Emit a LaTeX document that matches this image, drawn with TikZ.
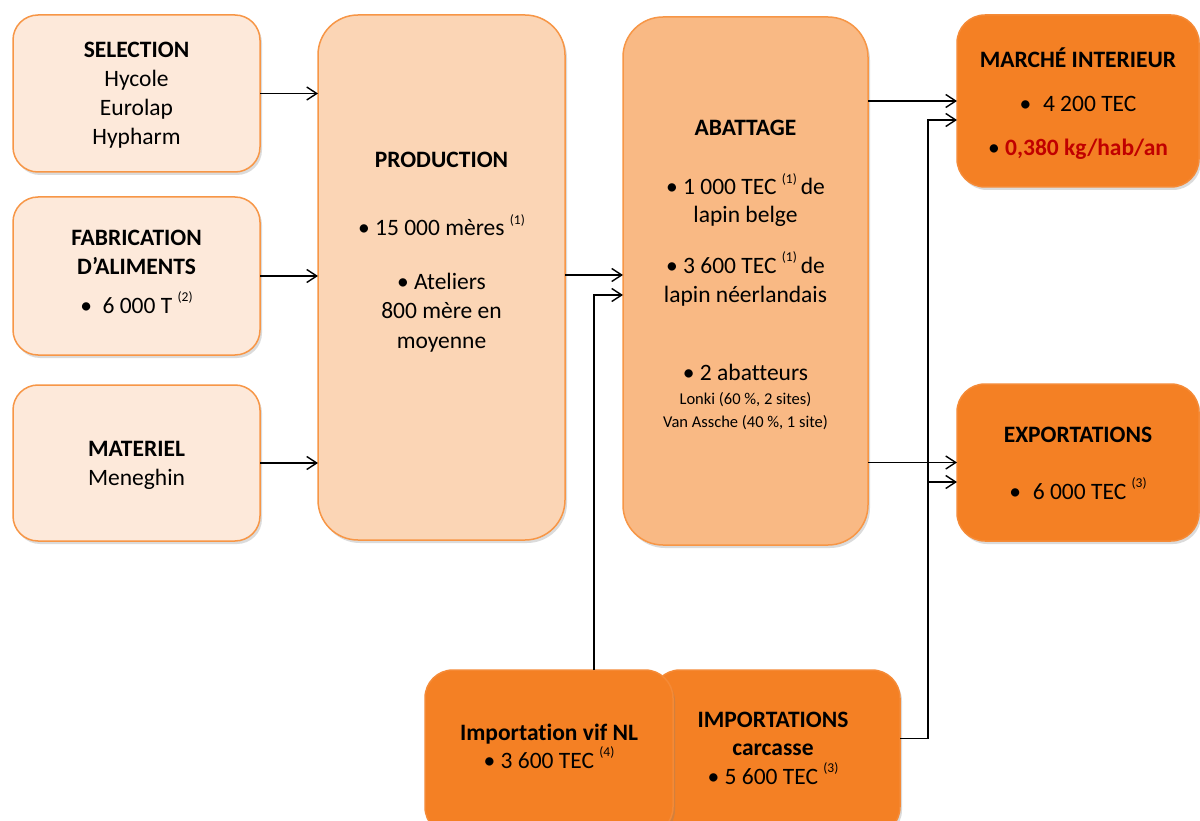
\documentclass[tikz,border=0pt]{standalone}
\usepackage{fontspec}
\setmainfont{Carlito}[RawFeature={-liga;-clig;-dlig;-calt;-rlig}]
\usetikzlibrary{arrows.meta,shadows}
\definecolor{bord}{HTML}{F79646}
\definecolor{lightc}{HTML}{FDE9DA}
\definecolor{prodc}{HTML}{FBD5B5}
\definecolor{abatc}{HTML}{F9B984}
\definecolor{darkc}{HTML}{F48024}
\definecolor{darkb}{HTML}{F58A36}
\definecolor{redt}{HTML}{C00000}
\newcommand\supr[1]{\raisebox{0.5em}{\fontsize{13.5}{13.5}\selectfont(#1)}}
\begin{document}
\begin{tikzpicture}[x=1pt,y=-1pt,
  box/.style={draw=bord, line width=1.5pt, rounded corners=25pt, inner sep=0pt, outer sep=0pt,
    drop shadow={shadow xshift=2pt,shadow yshift=-3pt,opacity=0.28}},
  lbox/.style={box, fill=lightc, minimum width=247pt},
  dbox/.style={box, fill=darkc, draw=darkb, rounded corners=28pt},
  txt/.style={anchor=base, inner sep=0pt, font=\fontsize{23.5}{28}\selectfont},
  stxt/.style={anchor=base, inner sep=0pt, font=\fontsize{16.5}{20}\selectfont},
  arr/.style={draw=black, line width=1.4pt, -{Straight Barb[length=10pt,width=13pt]}}]
\useasboundingbox (0,0) rectangle (1200,821);
\clip (0,0) rectangle (1200,821);
\fill[white] (0,0) rectangle (1200,821);

% boxes
\node[lbox, minimum height=157pt] (sel) at (136.5,93.5) {};
\node[lbox, minimum height=158pt] (fab) at (136.5,276) {};
\node[lbox, minimum height=156pt] (mat) at (136.5,463) {};
\node[box, fill=prodc, rounded corners=40pt, minimum width=247pt, minimum height=525pt] (prod) at (441.5,277.5) {};
\node[box, fill=abatc, rounded corners=40pt, minimum width=245pt, minimum height=528pt] (abat) at (745.5,281) {};
\node[dbox, minimum width=242pt, minimum height=172pt] (marche) at (1078,101) {};
\node[dbox, minimum width=242pt, minimum height=157pt] (export) at (1078,462.5) {};
\node[dbox, minimum width=248pt, minimum height=165pt] (carc) at (776,752.5) {};
\node[dbox, minimum width=248pt, minimum height=165pt] (vif) at (549,752.5) {};

% texts
\node[txt] (sel1) at (136.5,58) {\bfseries SELECTION};
\node[txt] (sel2) at (136.5,87) {Hycole};
\node[txt] (sel3) at (136.5,116) {Eurolap};
\node[txt] (sel4) at (136.5,145) {Hypharm};

\node[txt] (fab1) at (136.5,246) {\bfseries FABRICATION};
\node[txt] (fab2) at (136.5,275) {\bfseries D’ALIMENTS};
\node[txt] (fab3) at (136.5,313) {•\hspace{0.45em}6 000 T \supr{2}};

\node[txt] (mat1) at (136.5,456) {\bfseries MATERIEL};
\node[txt] (mat2) at (136.5,485) {Meneghin};

\node[txt] (pro1) at (441.5,168) {\bfseries PRODUCTION};
\node[txt] (pro2) at (441.5,236) {• 15 000 mères \supr{1}};
\node[txt] (pro3) at (441.5,290) {• Ateliers};
\node[txt] (pro4) at (441.5,319) {800 mère en};
\node[txt] (pro5) at (441.5,348) {moyenne};

\node[txt] (aba1) at (745.5,136) {\bfseries ABATTAGE};
\node[txt] (aba2) at (745.5,195) {• 1 000 TEC \supr{1}\,de};
\node[txt] (aba3) at (745.5,223) {lapin belge};
\node[txt] (aba4) at (745.5,273) {• 3 600 TEC \supr{1}\,de};
\node[txt] (aba5) at (745.5,302) {lapin néerlandais};
\node[txt] (aba6) at (745.5,380) {• 2 abatteurs};
\node[stxt] (aba7) at (745.5,404) {Lonki (60 \%, 2 sites)};
\node[stxt] (aba8) at (745.5,427) {Van Assche (40 \%, 1 site)};

\node[txt] (mar1) at (1078,68) {\bfseries MARCHÉ INTERIEUR};
\node[txt] (mar2) at (1078,112) {•\hspace{0.5em}4 200 TEC};
\node[txt] (mar3) at (1078,156) {• \textcolor{redt}{\bfseries 0,380 kg/hab/an}};

\node[txt] (exp1) at (1078,442) {\bfseries EXPORTATIONS};
\node[txt] (exp2) at (1078,499) {•\hspace{0.5em}6 000 TEC \supr{3}};

\node[txt] (vif1) at (549,740) {\bfseries Importation vif NL};
\node[txt] (vif2) at (549,768) {• 3 600 TEC \supr{4}};

\node[txt] (car1) at (773,727) {\bfseries IMPORTATIONS};
\node[txt] (car2) at (773,755) {\bfseries carcasse};
\node[txt] (car3) at (773,784) {• 5 600 TEC \supr{3}};

% connectors
\draw[arr] (sel.east) -- (sel.east -| prod.west);
\draw[arr] (fab.east) -- (fab.east -| prod.west);
\draw[arr] (mat.east) -- (mat.east -| prod.west);
\draw[arr] ([yshift=2.5pt]prod.east) -- ([yshift=2.5pt]prod.east -| abat.west);
\draw[arr] ([xshift=45pt]vif.north) |- ([yshift=-14pt]abat.west);
\draw[arr] (abat.east |- marche.west) -- (marche.west);
\draw[arr] (abat.east |- export.west) -- (export.west);
\draw[arr] ([yshift=14pt]carc.east) -- ++(28,0) |- ([yshift=-19pt]marche.west);
\draw[arr] ([yshift=14pt]carc.east) -- ++(28,0) |- ([yshift=-19.5pt]export.west);
\end{tikzpicture}
\end{document}
